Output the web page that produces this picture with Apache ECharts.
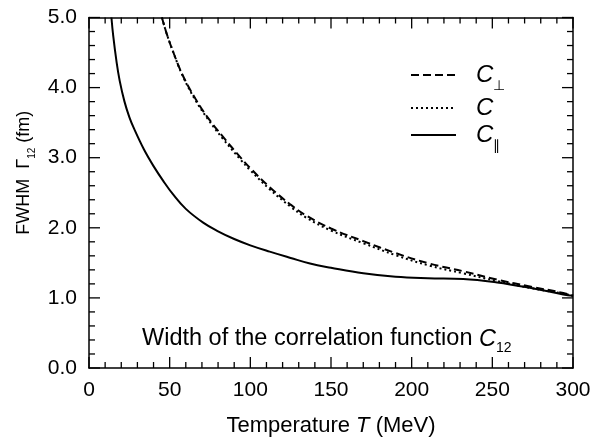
<!DOCTYPE html>
<html>
<head>
<meta charset="utf-8">
<script src="https://cdn.jsdelivr.net/npm/echarts@6/dist/echarts.min.js"></script>
<style>html,body{margin:0;padding:0;background:#fff}#c{width:605px;height:442px}</style>
</head>
<body>
<div id="c"></div>
<script>
// Data
var xTicks = [0, 50, 100, 150, 200, 250, 300];
var yTicks = [0.0, 1.0, 2.0, 3.0, 4.0, 5.0];
var xMinorTicks = [10, 20, 30, 40, 60, 70, 80, 90, 110, 120, 130, 140, 160, 170, 180, 190, 210, 220, 230, 240, 260, 270, 280, 290];
var yMinorTicks = [0.2, 0.4, 0.6, 0.8, 1.2, 1.4, 1.6, 1.8, 2.2, 2.4, 2.6, 2.8, 3.2, 3.4, 3.6, 3.8, 4.2, 4.4, 4.6, 4.8];

var tPar = [13.9, 15, 17, 19, 22, 25, 28, 34, 40, 46, 52, 60, 71, 80, 90, 100, 112, 125, 137, 150, 170, 190, 210, 232, 253, 274, 294, 300];
var vPar = [5.0, 4.74, 4.38, 4.10, 3.80, 3.58, 3.41, 3.12, 2.88, 2.67, 2.48, 2.27, 2.07, 1.95, 1.84, 1.75, 1.66, 1.57, 1.49, 1.43, 1.35, 1.30, 1.28, 1.27, 1.22, 1.14, 1.05, 1.03];

var tPerp = [45.2, 48, 52, 58, 66, 74, 83, 94, 100, 112, 125, 135, 150, 170, 190, 211, 232, 253, 274, 294, 300];
var vPerp = [5.0, 4.78, 4.52, 4.18, 3.84, 3.56, 3.30, 3.00, 2.85, 2.58, 2.33, 2.17, 1.99, 1.81, 1.64, 1.49, 1.38, 1.26, 1.16, 1.07, 1.03];
var vC    = [5.0, 4.78, 4.52, 4.17, 3.82, 3.54, 3.27, 2.97, 2.82, 2.55, 2.30, 2.14, 1.96, 1.78, 1.61, 1.46, 1.35, 1.24, 1.14, 1.06, 1.03];

var seriesNames = ['C⊥', 'C', 'C∥'];

function pairs(xs, ys) { return xs.map(function (x, i) { return [x, ys[i]]; }); }

var FONT = 'Liberation Sans, Arial, Helvetica, sans-serif';
var X_MIN = 0, X_MAX = 300, Y_MIN = 0, Y_MAX = 5;

// tick items: [value, kind]  kind 0 = x major, 1 = x minor, 2 = y major, 3 = y minor
var tickData = [];
xTicks.forEach(function (v) { tickData.push([v, 0]); });
xMinorTicks.forEach(function (v) { tickData.push([v, 1]); });
yTicks.forEach(function (v) { tickData.push([v, 2]); });
yMinorTicks.forEach(function (v) { tickData.push([v, 3]); });

function renderTick(params, api) {
  var v = api.value(0), kind = api.value(1);
  var len = (kind === 0 || kind === 2) ? 11 : 6;
  var style = { stroke: '#000', lineWidth: 1.3 };
  var a, b;
  if (kind < 2) {
    a = api.coord([v, Y_MIN]); b = api.coord([v, Y_MAX]);
    return { type: 'group', children: [
      { type: 'line', shape: { x1: a[0], y1: a[1], x2: a[0], y2: a[1] - len }, style: style },
      { type: 'line', shape: { x1: b[0], y1: b[1], x2: b[0], y2: b[1] + len }, style: style }
    ] };
  }
  a = api.coord([X_MIN, v]); b = api.coord([X_MAX, v]);
  return { type: 'group', children: [
    { type: 'line', shape: { x1: a[0], y1: a[1], x2: a[0] + len, y2: a[1] }, style: style },
    { type: 'line', shape: { x1: b[0], y1: b[1], x2: b[0] - len, y2: b[1] }, style: style }
  ] };
}

function ax(extra, showLine) {
  return Object.assign({
    type: 'value',
    axisLine: { show: showLine, onZero: false, lineStyle: { color: '#000', width: 1.5 } },
    axisTick: { show: false },
    axisLabel: { show: false },
    splitLine: { show: false }
  }, extra);
}

var x0 = { min: X_MIN, max: X_MAX, interval: 50, position: 'bottom',
  name: '{a|Temperature }{i|T}{a| (MeV)}', nameLocation: 'middle', nameGap: 47,
  nameTextStyle: { rich: {
    a: { fontFamily: FONT, fontSize: 22, color: '#000' },
    i: { fontFamily: FONT, fontSize: 22, fontStyle: 'italic', color: '#000' } } },
  axisLabel: { show: true, margin: 12, fontFamily: FONT, fontSize: 21, color: '#000',
    formatter: function (v) { return xTicks.indexOf(v) >= 0 ? String(v) : ''; } } };
var y0 = { min: Y_MIN, max: Y_MAX, interval: 1, position: 'left',
  name: '{a|FWHM  Γ}{s|12}{a| (fm)}', nameLocation: 'middle', nameGap: 53,
  nameTextStyle: { padding: [0, 0, 0, 40], rich: {
    a: { fontFamily: FONT, fontSize: 18, color: '#000' },
    s: { fontFamily: FONT, fontSize: 10, color: '#000', verticalAlign: 'bottom', padding: [0, 0, -4, 0] } } },
  axisLabel: { show: true, margin: 12, fontFamily: FONT, fontSize: 21, color: '#000',
    formatter: function (v) { return yTicks.indexOf(v) >= 0 ? v.toFixed(1) : ''; } } };

var chart = echarts.init(document.getElementById('c'));
var option = {
  animation: false,
  backgroundColor: '#fff',
  grid: { left: 89, right: 32, top: 17.5, bottom: 62, containLabel: false },
  xAxis: [
    ax(x0, true),
    ax({ min: X_MIN, max: X_MAX, interval: 50, position: 'top' }, true)
  ],
  yAxis: [
    ax(y0, true),
    ax({ min: Y_MIN, max: Y_MAX, interval: 1, position: 'right' }, true)
  ],
  legend: {
    orient: 'vertical', left: 405, top: 58, itemWidth: 45, itemHeight: 14, itemGap: 3,
    data: seriesNames, itemStyle: { opacity: 0 },
    formatter: function (n) {
      if (n === 'C⊥') return '{c|C}{s|⊥}';
      if (n === 'C∥') return '{c|C}{s|∥}';
      return '{c|C}';
    },
    textStyle: { padding: [0, 0, 0, 15], rich: {
      c: { fontFamily: FONT, fontSize: 24, lineHeight: 24, fontStyle: 'italic', color: '#000' },
      s: { fontFamily: FONT, fontSize: 14, lineHeight: 24, color: '#000', verticalAlign: 'bottom', padding: [0, 0, -6, 0] } } }
  },
  series: [
    { name: seriesNames[0], type: 'line', data: pairs(tPerp, vPerp), smooth: 0.4, showSymbol: false, symbol: 'none',
      lineStyle: { color: '#000', width: 2, type: [8, 4] }, itemStyle: { color: '#000' }, clip: true },
    { name: seriesNames[1], type: 'line', data: pairs(tPerp, vC), smooth: 0.4, showSymbol: false, symbol: 'none',
      lineStyle: { color: '#000', width: 2, type: [2, 3] }, itemStyle: { color: '#000' }, clip: true },
    { name: seriesNames[2], type: 'line', data: pairs(tPar, vPar), smooth: 0.4, showSymbol: false, symbol: 'none',
      lineStyle: { color: '#000', width: 2, type: 'solid' }, itemStyle: { color: '#000' }, clip: true },
    { name: 'ticks', type: 'custom', data: tickData, renderItem: renderTick, silent: true, z: 5,
      encode: { x: 0, y: 1 }, clip: false, tooltip: { show: false } }
  ],
  graphic: [
    { type: 'text', left: 142, top: 327, style: {
      text: '{a|Width of the correlation function }{i|C}{s|12}',
      rich: {
        a: { fontFamily: FONT, fontSize: 23.5, fill: '#000', color: '#000' },
        i: { fontFamily: FONT, fontSize: 23.5, fontStyle: 'italic', fill: '#000', color: '#000' },
        s: { fontFamily: FONT, fontSize: 14, fill: '#000', color: '#000', verticalAlign: 'bottom', padding: [0, 0, -4, 0] }
      } } }
  ]
};
chart.setOption(option);
</script>
</body>
</html>
